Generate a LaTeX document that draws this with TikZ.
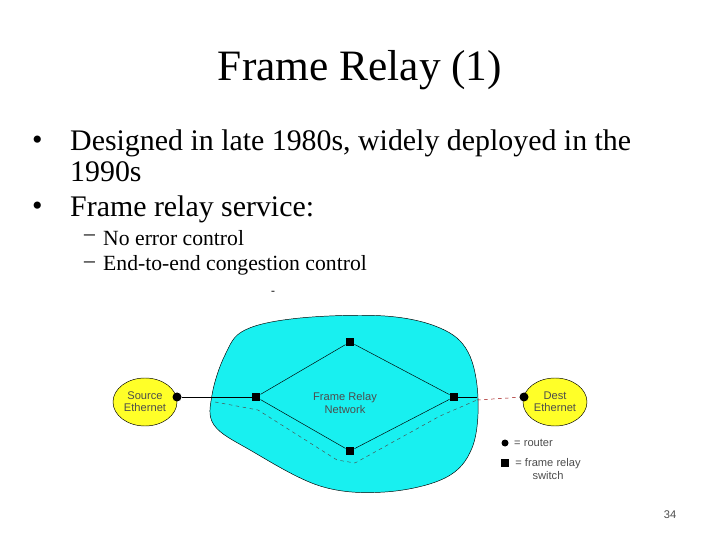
\documentclass[tikz,border=0pt]{standalone}
\usepackage{fontspec}
\setmainfont{Liberation Serif}
\newfontfamily\arial{Liberation Sans}
\usetikzlibrary{shapes.geometric}
\definecolor{netcyan}{RGB}{24,240,240}
\definecolor{ethyel}{RGB}{255,255,40}
\begin{document}
\begin{tikzpicture}[x=0.03cm,y=-0.03cm,
  sw/.style={fill=black,minimum size=8.5*0.03cm,inner sep=0pt,draw=none},
  rt/.style={circle,fill=black,minimum size=9*0.03cm,inner sep=0pt},
  eth/.style={ellipse,fill=ethyel,draw=black,thin,minimum width=64*0.03cm,minimum height=48*0.03cm,inner sep=0pt,align=center,font=\arial\fontsize{9.5}{10.5}\selectfont,text=black!70},
  lbl/.style={font=\arial\fontsize{9.5}{10.5}\selectfont,text=black!70,align=center,inner sep=0pt},
  body/.style={anchor=west,inner sep=0pt,font=\fontsize{25.5}{28}\selectfont},
  sub/.style={anchor=west,inner sep=0pt,font=\fontsize{18.5}{20}\selectfont}]
\useasboundingbox (0,0) rectangle (720,540);
\node[font=\fontsize{37}{40}\selectfont,inner sep=0pt] (title) at (360,70) {Frame Relay (1)};
\node[body] (b1) at (32,143) {\textbullet};
\node[body] (t1) at (70,143) {Designed in late 1980s, widely deployed in the};
\node[body] (t1b) at (70,172) {1990s};
\node[body] (b2) at (32,209) {\textbullet};
\node[body] (t2) at (70,209) {Frame relay service:};
\node[sub] (d1) at (84,238) {--};
\node[sub] (s1) at (103,238) {No error control};
\node[sub] (d2) at (84,265) {--};
\node[sub] (s2) at (103,265) {End-to-end congestion control};
\node[inner sep=0pt,font=\fontsize{10}{11}\selectfont] (dash) at (273,293) {-};
\draw[fill=netcyan,thin] plot[smooth cycle,tension=0.6] coordinates{
 (245,330)(300,318)(385,316)(440,328)(468,352)(478,398)(472,448)(445,478)(385,492)(320,486)(250,450)(214,425)(212,395)(225,355)};
\node[sw] (l) at (256,397) {};
\node[sw] (t) at (350,342) {};
\node[sw] (r) at (454,397) {};
\node[sw] (b) at (350,451) {};
\node[eth] (src) at (145,402) {Source\\Ethernet};
\node[eth] (dst) at (555,402) {Dest\\Ethernet};
\node[rt] (r1) at (177,397) {};
\node[rt] (r2) at (524,397) {};
\draw[thin] (l)--(t)--(r)--(b)--(l);
\draw[thin] (r1)--(l);
\draw[thin] (r)--(477,397);
\coordinate (c1) at (215,402);
\coordinate (c2) at (477,400);
\draw[dashed,thin,black!70] (c1)--(258,410)--(337,460)--(355,463)--(440,416)--(c2);
\draw[dashed,thin,red!60!black] (c2)--(r2);
\node[lbl] (net) at (345,403) {Frame Relay\\Network};
\node[rt,minimum size=7*0.03cm] (lr) at (505,443) {};
\node[lbl,anchor=west] (lrt) at (514,443) {= router};
\node[sw] (ls) at (505,463) {};
\node[lbl] (lst) at (548,469) {= frame relay\\switch};
\node[font=\arial\fontsize{9.5}{10}\selectfont,text=black!70] (pg) at (670,515) {34};
\end{tikzpicture}
\end{document}
